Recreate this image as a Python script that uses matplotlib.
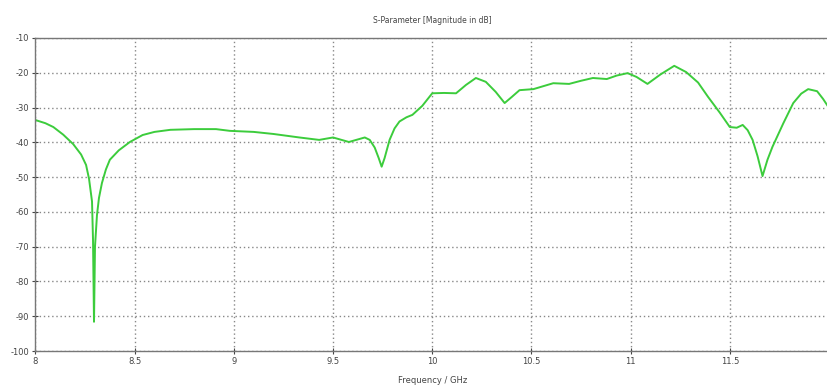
import matplotlib
matplotlib.use('Agg')
import matplotlib.pyplot as plt

plt.rcParams['axes.unicode_minus'] = False

# frequency in GHz and magnitude in dB
freq = [8.0, 8.05, 8.09, 8.14, 8.19, 8.23, 8.255, 8.27, 8.285, 8.29, 8.295,
        8.30, 8.31, 8.32, 8.335, 8.355, 8.375, 8.42, 8.476, 8.54, 8.6, 8.68,
        8.8, 8.91, 8.98, 9.1, 9.2, 9.33, 9.43, 9.50, 9.58, 9.66, 9.685,
        9.71, 9.73, 9.745, 9.76, 9.785, 9.81, 9.835, 9.87, 9.90, 9.95,
        10.0, 10.06, 10.12, 10.17, 10.22, 10.27, 10.32, 10.365, 10.40,
        10.44, 10.51, 10.61, 10.69, 10.75, 10.81, 10.88, 10.93, 10.985,
        11.03, 11.085, 11.15, 11.22, 11.28, 11.34, 11.39, 11.45, 11.5,
        11.535, 11.565, 11.59, 11.615, 11.64, 11.665, 11.69, 11.715, 11.77,
        11.82, 11.86, 11.895, 11.94, 11.97, 12.0]
s11 = [-33.6, -34.5, -35.6, -37.8, -40.5, -43.5, -46.5, -50.5, -57.0, -68.0,
       -91.6, -70.0, -60.9, -56.0, -51.7, -47.8, -45.0, -42.3, -39.9, -37.9,
       -37.0, -36.4, -36.2, -36.2, -36.7, -37.0, -37.6, -38.6, -39.3, -38.6,
       -39.9, -38.6, -39.3, -41.5, -44.5, -47.0, -44.5, -39.3, -36.0, -34.0,
       -32.8, -32.1, -29.5, -25.9, -25.8, -25.9, -23.5, -21.5, -22.6, -25.5,
       -28.7, -27.0, -25.0, -24.7, -23.0, -23.2, -22.3, -21.5, -21.8, -20.8,
       -20.1, -21.2, -23.2, -20.5, -18.0, -19.8, -22.8, -26.9, -31.5, -35.6,
       -35.8, -35.0, -36.5, -39.3, -44.0, -49.7, -45.0, -41.3, -34.5, -28.7,
       -26.0, -24.7, -25.3, -27.5, -30.1]

xticks = [8, 8.5, 9, 9.5, 10, 10.5, 11, 11.5, 12]
xticklabels = ['8', '8.5', '9', '9.5', '10', '10.5', '11', '11.5', '']
yticks = [-10, -20, -30, -40, -50, -60, -70, -80, -90, -100]

fig = plt.figure(figsize=(8.27, 3.85), dpi=100)
ax = fig.add_axes([0.0429, 0.0883, 0.9595, 0.8130])

ax.plot(freq, s11, color='#3ccc3c', linewidth=1.4, solid_joinstyle='round')

ax.set_xlim(8, 12)
ax.set_ylim(-100, -10)
ax.set_xticks(xticks)
ax.set_xticklabels(xticklabels)
ax.set_yticks(yticks)
ax.tick_params(axis='both', labelsize=6, colors='#444444', direction='inout',
               length=5, width=0.8, pad=2)

ax.grid(True, linestyle=(0, (1, 2)), color='#888888', linewidth=1.0)
for side in ['left', 'bottom', 'top']:
    ax.spines[side].set_color('#777777')
    ax.spines[side].set_linewidth(1.0)
ax.spines['right'].set_visible(False)

ax.set_title('S-Parameter [Magnitude in dB]', fontsize=5.5, color='#444444', pad=11)
ax.set_xlabel('Frequency / GHz', fontsize=6, color='#444444', labelpad=7)

fig.savefig('out.png', dpi=100)
